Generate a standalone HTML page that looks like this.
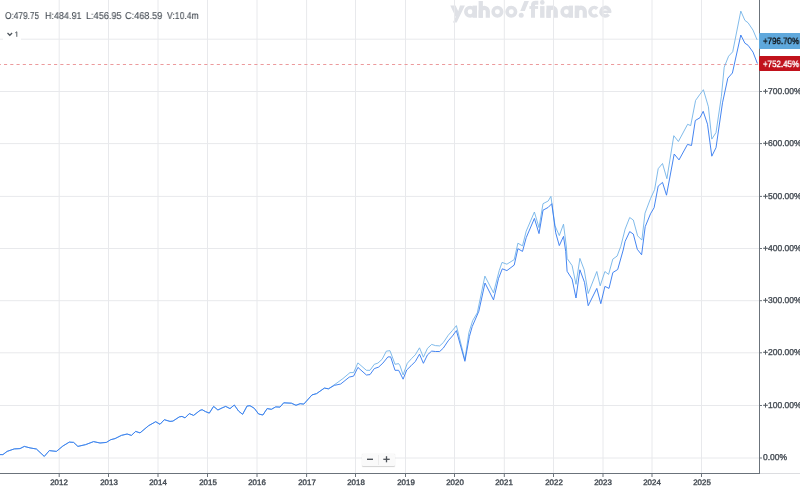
<!DOCTYPE html>
<html><head><meta charset="utf-8"><style>
html,body{margin:0;padding:0;background:#fff;}
body{width:800px;height:491px;position:relative;overflow:hidden;font-family:"Liberation Sans",sans-serif;}
svg{position:absolute;left:0;top:0;}
div{will-change:transform;text-rendering:geometricPrecision;}
</style></head><body>
<svg style="position:absolute;left:0;top:0" width="800" height="30" viewBox="0 0 800 30"><polygon points="450.3,5.6 455.6,5.6 458.2,11.2 460.0,5.6 464.9,5.6 456.7,22.4 452.9,22.4 455.6,17.0" fill="#dfe1e6"/><circle cx="470.1" cy="11.7" r="4.25" fill="none" stroke="#dfe1e6" stroke-width="3.6"/><rect x="472.6" y="5.6" width="4.40" height="12.20" fill="#dfe1e6"/><rect x="478.6" y="1.0" width="4.30" height="16.80" fill="#dfe1e6"/><path d="M480.75,17.8 V11.23 A3.53,3.53 0 0 1 487.8,11.23 V17.8" fill="none" stroke="#dfe1e6" stroke-width="4.2"/><circle cx="497.4" cy="11.7" r="4.25" fill="none" stroke="#dfe1e6" stroke-width="3.6"/><circle cx="511.3" cy="11.7" r="4.25" fill="none" stroke="#dfe1e6" stroke-width="3.6"/><polygon points="524.3,1 528.9,1 524.8,10.9 520.3,10.9" fill="#dfe1e6"/><circle cx="521.2" cy="15.3" r="2.5" fill="#dfe1e6"/><path d="M533,17.8 V5.2 Q533,2.8 535.6,2.8 H538.3" fill="none" stroke="#dfe1e6" stroke-width="4"/><rect x="529.4" y="6.1" width="8.70" height="2.80" fill="#dfe1e6"/><rect x="540.1" y="6.1" width="4.40" height="11.70" fill="#dfe1e6"/><circle cx="542.3" cy="2.4" r="2.3" fill="#dfe1e6"/><rect x="546.4" y="5.6" width="4.30" height="12.20" fill="#dfe1e6"/><path d="M548.55,17.8 V11.30 A3.60,3.60 0 0 1 555.75,11.30 V17.8" fill="none" stroke="#dfe1e6" stroke-width="4.2"/><circle cx="566.4" cy="11.7" r="4.25" fill="none" stroke="#dfe1e6" stroke-width="3.6"/><rect x="568.8" y="5.6" width="4.20" height="12.20" fill="#dfe1e6"/><rect x="574.75" y="5.6" width="4.40" height="12.20" fill="#dfe1e6"/><path d="M576.95,17.8 V11.62 A3.92,3.92 0 0 1 584.8,11.62 V17.8" fill="none" stroke="#dfe1e6" stroke-width="4.2"/><path d="M597.21,14.71 A4.25,4.25 0 1 1 597.21,8.69" fill="none" stroke="#dfe1e6" stroke-width="3.6"/><path d="M608.56,14.43 A4.25,4.25 0 1 1 609.55,11.70" fill="none" stroke="#dfe1e6" stroke-width="3.6"/><rect x="601.5" y="10.5" width="9.80" height="2.50" fill="#dfe1e6"/></svg>
<svg width="800" height="491" viewBox="0 0 800 491">
<g stroke="#e8e9ec" stroke-width="1"><line x1="59.20" y1="0" x2="59.20" y2="473" /><line x1="108.50" y1="0" x2="108.50" y2="473" /><line x1="158.00" y1="0" x2="158.00" y2="473" /><line x1="207.50" y1="0" x2="207.50" y2="473" /><line x1="257.00" y1="0" x2="257.00" y2="473" /><line x1="306.60" y1="0" x2="306.60" y2="473" /><line x1="355.50" y1="0" x2="355.50" y2="473" /><line x1="405.50" y1="0" x2="405.50" y2="473" /><line x1="454.50" y1="0" x2="454.50" y2="473" /><line x1="504.30" y1="0" x2="504.30" y2="473" /><line x1="553.50" y1="0" x2="553.50" y2="473" /><line x1="603.00" y1="0" x2="603.00" y2="473" /><line x1="652.00" y1="0" x2="652.00" y2="473" /><line x1="701.50" y1="0" x2="701.50" y2="473" /></g>
<g stroke="#e8e9ec" stroke-width="1"><line x1="0" y1="458.00" x2="759" y2="458.00" /><line x1="0" y1="405.50" x2="759" y2="405.50" /><line x1="0" y1="352.80" x2="759" y2="352.80" /><line x1="0" y1="300.70" x2="759" y2="300.70" /><line x1="0" y1="248.50" x2="759" y2="248.50" /><line x1="0" y1="196.40" x2="759" y2="196.40" /><line x1="0" y1="143.60" x2="759" y2="143.60" /><line x1="0" y1="91.50" x2="759" y2="91.50" /><line x1="0" y1="39.20" x2="759" y2="39.20" /></g>
<line x1="0" y1="64.5" x2="759" y2="64.5" stroke="#ec9a9c" stroke-width="1" stroke-dasharray="3.129,3.129" stroke-dashoffset="2.26"/>
<polyline fill="none" stroke="#6aafe6" stroke-width="0.85" stroke-linejoin="round" points="0.0,454.6 2.9,454.6 7.1,451.4 14.3,448.9 20.0,448.6 24.3,446.4 30.0,447.9 36.4,449.0 44.3,456.4 49.3,450.6 56.4,451.4 62.9,446.0 69.3,442.1 73.6,442.4 77.9,446.4 85.7,444.6 93.6,441.6 100.0,443.0 106.4,442.4 110.7,439.7 115.0,438.6 121.4,435.4 127.1,434.0 131.4,435.4 135.7,431.4 140.0,432.9 148.6,425.7 155.7,421.7 160.0,424.3 164.3,419.7 170.0,421.4 172.9,421.1 179.3,416.9 182.0,416.4 185.0,417.9 189.3,413.6 193.6,415.4 200.0,410.4 202.1,409.7 205.7,411.7 209.3,413.1 213.6,406.4 217.9,410.0 222.1,407.9 225.7,406.4 230.0,408.6 234.3,405.0 238.6,411.1 242.6,414.3 247.1,406.0 250.0,405.7 254.3,408.3 258.6,414.0 262.9,415.0 267.1,408.6 271.4,409.3 275.7,406.9 280.0,407.1 283.7,402.8 291.4,403.2 296.0,405.3 300.1,403.7 303.8,404.1 312.0,394.9 316.6,393.6 324.4,388.1 328.5,388.8 337.0,382.9 342.9,378.6 350.0,372.6 353.6,372.6 357.9,362.9 366.4,370.3 370.0,370.3 374.3,364.3 377.9,363.1 382.1,359.3 386.4,351.1 390.0,350.7 395.0,364.3 398.6,363.6 400.0,365.7 403.1,374.9 407.3,363.3 411.6,358.5 415.3,354.8 419.5,347.8 423.4,357.2 427.5,348.3 431.7,344.4 435.4,345.6 439.7,345.9 443.3,342.6 448.2,335.3 452.5,330.4 456.4,325.6 464.9,359.8 468.9,332.7 472.7,320.5 477.3,312.8 484.9,276.1 493.5,292.8 499.2,270.7 502.0,262.4 506.9,264.2 514.2,259.6 517.9,243.2 522.5,245.9 526.2,231.2 534.4,212.0 539.0,227.6 543.0,203.7 548.2,201.0 550.9,196.4 555.0,225.7 559.3,235.6 563.5,224.2 566.4,247.0 567.1,258.4 572.1,265.6 576.0,284.3 579.9,258.4 584.2,269.8 588.2,293.5 596.8,271.5 600.2,285.8 604.9,271.5 608.6,274.4 612.8,259.1 617.1,256.1 620.8,246.3 625.1,229.2 629.7,217.5 633.3,220.0 637.6,235.8 641.9,240.1 645.0,213.2 650.5,198.6 654.6,189.7 658.2,168.7 662.5,163.5 666.9,178.7 673.8,135.7 678.4,141.5 687.6,124.3 690.7,125.6 695.6,100.4 700.0,94.2 703.4,89.7 708.4,106.8 711.8,139.1 716.0,132.6 721.4,96.4 724.2,67.2 728.6,56.2 732.7,51.8 740.8,11.1 744.9,20.4 748.1,22.8 753.0,30.1 757.1,39.9"/>
<polyline fill="none" stroke="#3b7ef0" stroke-width="0.95" stroke-linejoin="round" points="0.0,454.6 2.9,454.6 7.1,451.4 14.3,448.9 20.0,448.6 24.3,446.4 30.0,447.9 36.4,449.0 44.3,456.4 49.3,450.6 56.4,451.4 62.9,446.0 69.3,442.1 73.6,442.4 77.9,446.4 85.7,444.6 93.6,441.6 100.0,443.0 106.4,442.4 110.7,439.7 115.0,438.6 121.4,435.4 127.1,434.0 131.4,435.4 135.7,431.4 140.0,432.9 148.6,425.7 155.7,421.7 160.0,424.3 164.3,419.7 170.0,421.4 172.9,421.1 179.3,416.9 182.0,416.4 185.0,417.9 189.3,413.6 193.6,415.4 200.0,410.4 202.1,409.7 205.7,411.7 209.3,413.1 213.6,406.4 217.9,410.0 222.1,407.9 225.7,406.4 230.0,408.6 234.3,405.0 238.6,411.1 242.6,414.3 247.1,406.0 250.0,405.7 254.3,408.3 258.6,414.0 262.9,415.0 267.1,408.6 271.4,409.3 275.7,406.9 280.0,407.1 283.7,402.8 291.4,403.2 296.0,405.3 300.1,403.7 303.8,404.1 312.0,394.9 316.6,393.6 324.4,388.1 328.5,388.8 334.3,385.4 340.7,384.0 349.3,377.1 353.6,376.1 357.9,367.4 366.4,375.0 370.0,374.6 374.3,368.6 378.6,367.1 382.9,363.1 387.9,356.9 390.7,356.9 395.0,370.3 398.6,370.3 400.0,372.9 403.1,379.2 406.7,370.0 411.0,365.8 415.3,361.5 419.5,354.2 423.4,363.3 427.5,354.8 431.7,351.1 435.4,351.5 439.7,351.5 443.3,348.1 448.2,340.8 452.5,335.9 456.4,330.6 464.9,361.3 469.4,336.5 472.2,326.6 478.8,311.3 485.0,283.0 493.5,299.9 498.5,278.5 502.3,268.8 506.9,270.6 514.2,265.1 517.9,248.7 522.5,251.4 526.2,237.7 534.4,218.4 539.0,233.6 543.0,210.2 548.2,207.4 551.8,203.7 555.7,232.8 559.3,245.6 563.5,236.4 565.7,251.3 567.1,271.3 572.1,279.1 576.0,298.0 579.9,269.8 584.5,282.3 588.2,305.7 596.8,288.4 600.8,303.7 604.9,286.4 609.0,288.4 612.8,272.6 617.7,269.5 623.2,250.0 625.1,241.4 629.7,231.6 633.3,234.0 637.3,249.3 641.6,254.8 645.2,226.7 650.5,213.8 654.1,207.7 658.2,186.1 662.5,182.4 666.5,195.2 674.2,154.0 679.0,159.9 687.5,144.4 691.5,145.5 695.3,120.5 700.0,117.7 703.2,111.3 707.5,124.2 711.8,156.2 716.0,147.7 722.5,102.8 727.8,78.2 732.4,73.0 740.8,35.0 744.9,43.2 748.1,45.3 753.0,52.1 757.4,63.5"/>
<g stroke="#6b737b" stroke-width="1" shape-rendering="crispEdges">
<line x1="0" y1="473.5" x2="760" y2="473.5"/>
<line x1="759.5" y1="0" x2="759.5" y2="474"/>
</g>
<g stroke="#6b737b" stroke-width="1"><line x1="59.20" y1="474" x2="59.20" y2="477" /><line x1="108.50" y1="474" x2="108.50" y2="477" /><line x1="158.00" y1="474" x2="158.00" y2="477" /><line x1="207.50" y1="474" x2="207.50" y2="477" /><line x1="257.00" y1="474" x2="257.00" y2="477" /><line x1="306.60" y1="474" x2="306.60" y2="477" /><line x1="355.50" y1="474" x2="355.50" y2="477" /><line x1="405.50" y1="474" x2="405.50" y2="477" /><line x1="454.50" y1="474" x2="454.50" y2="477" /><line x1="504.30" y1="474" x2="504.30" y2="477" /><line x1="553.50" y1="474" x2="553.50" y2="477" /><line x1="603.00" y1="474" x2="603.00" y2="477" /><line x1="652.00" y1="474" x2="652.00" y2="477" /><line x1="701.50" y1="474" x2="701.50" y2="477" /></g>
<g stroke="#6b737b" stroke-width="1"><line x1="760" y1="458.00" x2="762" y2="458.00" /><line x1="760" y1="405.50" x2="762" y2="405.50" /><line x1="760" y1="352.80" x2="762" y2="352.80" /><line x1="760" y1="300.70" x2="762" y2="300.70" /><line x1="760" y1="248.50" x2="762" y2="248.50" /><line x1="760" y1="196.40" x2="762" y2="196.40" /><line x1="760" y1="143.60" x2="762" y2="143.60" /><line x1="760" y1="91.50" x2="762" y2="91.50" /><line x1="760" y1="39.20" x2="762" y2="39.20" /></g>
<line x1="760" y1="473.5" x2="800" y2="473.5" stroke="#dcdde0" stroke-width="1"/>
</svg>
<div style="position:absolute;left:4.88px;top:10.73px;font-size:10.0px;line-height:12.0px;color:#454c54;font-weight:normal;white-space:nowrap;transform:scaleX(0.83);transform-origin:0 0;-webkit-text-stroke:0.12px #454c54;">O:479.75</div><div style="position:absolute;left:44.85px;top:10.73px;font-size:10.0px;line-height:12.0px;color:#454c54;font-weight:normal;white-space:nowrap;transform:scaleX(0.9);transform-origin:0 0;-webkit-text-stroke:0.12px #454c54;">H:484.91</div><div style="position:absolute;left:85.74px;top:10.73px;font-size:10.0px;line-height:12.0px;color:#454c54;font-weight:normal;white-space:nowrap;transform:scaleX(0.915);transform-origin:0 0;-webkit-text-stroke:0.12px #454c54;">L:456.95</div><div style="position:absolute;left:125.44px;top:10.73px;font-size:10.0px;line-height:12.0px;color:#454c54;font-weight:normal;white-space:nowrap;transform:scaleX(0.918);transform-origin:0 0;-webkit-text-stroke:0.12px #454c54;">C:468.59</div><div style="position:absolute;left:167.07px;top:10.73px;font-size:10.0px;line-height:12.0px;color:#454c54;font-weight:normal;white-space:nowrap;transform:scaleX(0.86);transform-origin:0 0;-webkit-text-stroke:0.12px #454c54;">V:10.4m</div>
<div style="position:absolute;left:2.5px;top:27px;width:18px;height:13.5px;background:#fff;"></div>
<svg style="position:absolute;left:6px;top:31px" width="8" height="6" viewBox="0 0 8 6"><polyline points="1.5,2.0 3.8,4.3 6.1,2.0" fill="none" stroke="#4d545b" stroke-width="1.25"/></svg>
<svg style="position:absolute;left:0;top:24px" width="30" height="20" viewBox="0 24 30 20"><path d="M15.3,32.8 L16.8,31.8 L16.8,36.8" fill="none" stroke="#50575e" stroke-width="0.95"/></svg>
<div style="position:absolute;left:762.88px;top:452.15px;font-size:8.5px;line-height:10.2px;color:#454c54;font-weight:normal;white-space:nowrap;-webkit-text-stroke:0.35px #454c54;">0.00%</div><div style="position:absolute;left:762.88px;top:399.65px;font-size:8.5px;line-height:10.2px;color:#454c54;font-weight:normal;white-space:nowrap;-webkit-text-stroke:0.35px #454c54;">+100.00%</div><div style="position:absolute;left:762.88px;top:346.95px;font-size:8.5px;line-height:10.2px;color:#454c54;font-weight:normal;white-space:nowrap;-webkit-text-stroke:0.35px #454c54;">+200.00%</div><div style="position:absolute;left:762.88px;top:294.85px;font-size:8.5px;line-height:10.2px;color:#454c54;font-weight:normal;white-space:nowrap;-webkit-text-stroke:0.35px #454c54;">+300.00%</div><div style="position:absolute;left:762.88px;top:242.65px;font-size:8.5px;line-height:10.2px;color:#454c54;font-weight:normal;white-space:nowrap;-webkit-text-stroke:0.35px #454c54;">+400.00%</div><div style="position:absolute;left:762.88px;top:190.55px;font-size:8.5px;line-height:10.2px;color:#454c54;font-weight:normal;white-space:nowrap;-webkit-text-stroke:0.35px #454c54;">+500.00%</div><div style="position:absolute;left:762.88px;top:137.75px;font-size:8.5px;line-height:10.2px;color:#454c54;font-weight:normal;white-space:nowrap;-webkit-text-stroke:0.35px #454c54;">+600.00%</div><div style="position:absolute;left:762.88px;top:85.65px;font-size:8.5px;line-height:10.2px;color:#454c54;font-weight:normal;white-space:nowrap;-webkit-text-stroke:0.35px #454c54;">+700.00%</div>
<div style="position:absolute;left:29.20px;width:60px;text-align:center;top:477.92px;font-size:7.9px;line-height:9.48px;color:#454c54;font-weight:normal;white-space:nowrap;-webkit-text-stroke:0.4px #454c54;">2012</div><div style="position:absolute;left:78.50px;width:60px;text-align:center;top:477.92px;font-size:7.9px;line-height:9.48px;color:#454c54;font-weight:normal;white-space:nowrap;-webkit-text-stroke:0.4px #454c54;">2013</div><div style="position:absolute;left:128.00px;width:60px;text-align:center;top:477.92px;font-size:7.9px;line-height:9.48px;color:#454c54;font-weight:normal;white-space:nowrap;-webkit-text-stroke:0.4px #454c54;">2014</div><div style="position:absolute;left:177.50px;width:60px;text-align:center;top:477.92px;font-size:7.9px;line-height:9.48px;color:#454c54;font-weight:normal;white-space:nowrap;-webkit-text-stroke:0.4px #454c54;">2015</div><div style="position:absolute;left:227.00px;width:60px;text-align:center;top:477.92px;font-size:7.9px;line-height:9.48px;color:#454c54;font-weight:normal;white-space:nowrap;-webkit-text-stroke:0.4px #454c54;">2016</div><div style="position:absolute;left:276.60px;width:60px;text-align:center;top:477.92px;font-size:7.9px;line-height:9.48px;color:#454c54;font-weight:normal;white-space:nowrap;-webkit-text-stroke:0.4px #454c54;">2017</div><div style="position:absolute;left:325.50px;width:60px;text-align:center;top:477.92px;font-size:7.9px;line-height:9.48px;color:#454c54;font-weight:normal;white-space:nowrap;-webkit-text-stroke:0.4px #454c54;">2018</div><div style="position:absolute;left:375.50px;width:60px;text-align:center;top:477.92px;font-size:7.9px;line-height:9.48px;color:#454c54;font-weight:normal;white-space:nowrap;-webkit-text-stroke:0.4px #454c54;">2019</div><div style="position:absolute;left:424.50px;width:60px;text-align:center;top:477.92px;font-size:7.9px;line-height:9.48px;color:#454c54;font-weight:normal;white-space:nowrap;-webkit-text-stroke:0.4px #454c54;">2020</div><div style="position:absolute;left:474.30px;width:60px;text-align:center;top:477.92px;font-size:7.9px;line-height:9.48px;color:#454c54;font-weight:normal;white-space:nowrap;-webkit-text-stroke:0.4px #454c54;">2021</div><div style="position:absolute;left:523.50px;width:60px;text-align:center;top:477.92px;font-size:7.9px;line-height:9.48px;color:#454c54;font-weight:normal;white-space:nowrap;-webkit-text-stroke:0.4px #454c54;">2022</div><div style="position:absolute;left:573.00px;width:60px;text-align:center;top:477.92px;font-size:7.9px;line-height:9.48px;color:#454c54;font-weight:normal;white-space:nowrap;-webkit-text-stroke:0.4px #454c54;">2023</div><div style="position:absolute;left:622.00px;width:60px;text-align:center;top:477.92px;font-size:7.9px;line-height:9.48px;color:#454c54;font-weight:normal;white-space:nowrap;-webkit-text-stroke:0.4px #454c54;">2024</div><div style="position:absolute;left:671.50px;width:60px;text-align:center;top:477.92px;font-size:7.9px;line-height:9.48px;color:#454c54;font-weight:normal;white-space:nowrap;-webkit-text-stroke:0.4px #454c54;">2025</div>
<div style="position:absolute;left:758.6px;top:33px;width:41.4px;height:15.5px;background:#5fa8dc;border-radius:1px 0 0 1px;"></div>
<div style="position:absolute;left:758.6px;top:56.2px;width:41.4px;height:15px;background:#c1121c;border-radius:1px 0 0 1px;"></div>
<div style="position:absolute;left:763.20px;top:35.69px;font-size:9.2px;line-height:11.04px;color:#121417;font-weight:normal;white-space:nowrap;transform:scaleX(0.865);transform-origin:0 0;-webkit-text-stroke:0.38px #121417;">+796.70%</div>
<div style="position:absolute;left:763.20px;top:58.59px;font-size:9.2px;line-height:11.04px;color:#ffffff;font-weight:normal;white-space:nowrap;transform:scaleX(0.865);transform-origin:0 0;-webkit-text-stroke:0.4px #ffffff;">+752.45%</div>
<div style="position:absolute;left:362.3px;top:453.8px;width:32.5px;height:11.5px;background:#fafafa;box-shadow:0 0.6px 1px rgba(0,0,0,0.18);border-radius:1px;"></div>
<div style="position:absolute;left:378px;top:455px;width:0.6px;height:9.5px;background:#ececec;"></div>
<svg style="position:absolute;left:360px;top:450px" width="40" height="20" viewBox="0 0 40 20">
<line x1="7" y1="9.3" x2="13" y2="9.3" stroke="#4d5258" stroke-width="1.4"/>
<line x1="23.3" y1="9.3" x2="29.7" y2="9.3" stroke="#4d5258" stroke-width="1.3"/>
<line x1="26.5" y1="6.2" x2="26.5" y2="12.3" stroke="#4d5258" stroke-width="1.3"/>
</svg>
</body></html>
